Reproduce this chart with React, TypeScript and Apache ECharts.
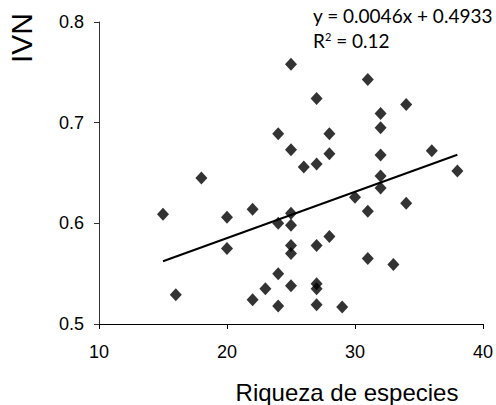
import React, { useEffect, useRef } from "react";
import * as echarts from "echarts";

const richezaX = [25, 31, 27, 34, 32, 32, 24, 28, 25, 28, 32, 36, 26, 27, 38, 18, 32, 32, 30, 34, 31, 15, 20, 22, 25, 24, 25, 20, 25, 25, 27, 28, 31, 33, 24, 16, 23, 22, 25, 27, 27, 24, 27, 29];
const ivnY = [0.758, 0.743, 0.724, 0.718, 0.709, 0.695, 0.689, 0.689, 0.673, 0.669, 0.668, 0.672, 0.656, 0.659, 0.652, 0.645, 0.647, 0.635, 0.626, 0.62, 0.612, 0.609, 0.606, 0.614, 0.61, 0.6, 0.598, 0.575, 0.578, 0.57, 0.578, 0.587, 0.565, 0.559, 0.55, 0.529, 0.535, 0.524, 0.538, 0.54, 0.535, 0.518, 0.519, 0.517];

const slope = 0.0046;
const intercept = 0.4933;
const rSquared = "0.12";
const trendX = [15, 38];

const xTicks = [10, 20, 30, 40];
const yTicks = [0.5, 0.6, 0.7, 0.8];

export default function App() {
  const ref = useRef<HTMLDivElement>(null);
  useEffect(() => {
    document.body.style.margin = "0";
    const chart = echarts.init(ref.current!, null, { renderer: "svg" });
    const points = richezaX.map((x, i) => [x, ivnY[i]]);
    const trend = trendX.map((x) => [x, slope * x + intercept]);
    const font = "'Liberation Sans', Arial, sans-serif";
    const eqFont = "Lato, 'Open Sans', sans-serif";
    chart.setOption({
      animation: false,
      backgroundColor: "#ffffff",
      grid: { left: 99, right: 12, top: 22, bottom: 81, containLabel: false },
      xAxis: {
        type: "value",
        min: xTicks[0],
        max: xTicks[xTicks.length - 1],
        interval: 10,
        axisLine: { show: true, lineStyle: { color: "#000", width: 1 } },
        axisTick: { show: true, inside: false, length: 5, lineStyle: { color: "#000" } },
        axisLabel: { color: "#000", fontSize: 18, fontFamily: font, margin: 19 },
        splitLine: { show: false },
      },
      yAxis: {
        type: "value",
        min: yTicks[0],
        max: yTicks[yTicks.length - 1],
        interval: 0.1,
        axisLine: { show: true, lineStyle: { color: "#333", width: 1 } },
        axisTick: { show: true, inside: false, length: 5, lineStyle: { color: "#333" } },
        axisLabel: {
          color: "#000",
          fontSize: 18,
          fontFamily: font,
          margin: 15,
          formatter: (v: number) => v.toFixed(1),
        },
        splitLine: { show: false },
      },
      series: [
        {
          type: "scatter",
          data: points,
          symbol: "diamond",
          symbolSize: [12, 13],
          itemStyle: { color: "#000" },
          z: 3,
        },
        {
          type: "line",
          data: trend,
          showSymbol: false,
          symbol: "none",
          lineStyle: { color: "#000", width: 2 },
          z: 2,
        },
      ],
      graphic: [
        {
          type: "text",
          x: 21,
          y: 38,
          rotation: Math.PI / 2,
          style: {
            text: "IVN",
            font: `30px ${font}`,
            fill: "#000",
            align: "center",
            verticalAlign: "middle",
          },
        },
        {
          type: "text",
          x: 347,
          y: 392,
          style: {
            text: "Riqueza de especies",
            font: `24px ${font}`,
            fill: "#000",
            align: "center",
            verticalAlign: "middle",
          },
        },
        {
          type: "text",
          x: 313,
          y: 15,
          style: {
            text: `y = ${slope}x + ${intercept}`,
            font: `19px ${eqFont}`,
            fill: "#000",
            align: "left",
            verticalAlign: "middle",
          },
        },
        {
          type: "text",
          x: 313,
          y: 40,
          style: {
            text: `{r|R}{s|2}{r| = ${rSquared}}`,
            fill: "#000",
            align: "left",
            verticalAlign: "middle",
            rich: {
              r: { fontSize: 19, fontFamily: eqFont, fill: "#000", verticalAlign: "bottom" },
              s: { fontSize: 11, fontFamily: eqFont, fill: "#000", verticalAlign: "top" },
            },
          },
        },
      ],
    });
    return () => chart.dispose();
  }, []);
  return <div ref={ref} style={{ width: 496, height: 405 }} />;
}
